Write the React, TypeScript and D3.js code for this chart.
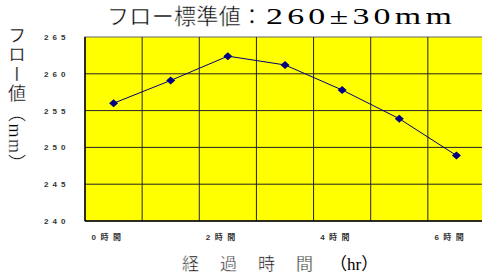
import React from "react";
import * as d3 from "d3";

const hours = ["0", "1", "2", "3", "4", "5", "6"];
const flowValues = [256.0, 259.1, 262.4, 261.2, 257.8, 253.9, 248.9];
const yTicks = [240, 245, 250, 255, 260, 265];

const W = 482;
const H = 278;
const plot = { left: 85, top: 37, right: 485, bottom: 221 };

const serif = "'Liberation Serif', 'DejaVu Serif', 'Noto Sans CJK JP', serif";
const small = "'Liberation Sans', Arial, 'Noto Sans CJK JP', sans-serif";

// thin the heavy gothic glyphs a bit so they read closer to a mincho face
const thin = { stroke: "#fff", strokeWidth: 0.45 };

export default function App() {
  const x = d3
    .scaleBand<string>()
    .domain(hours)
    .range([plot.left, plot.right])
    .padding(0);
  const y = d3.scaleLinear().domain([240, 265]).range([plot.bottom, plot.top]);
  const cx = (h: string) => (x(h) as number) + x.bandwidth() / 2;

  const line = d3
    .line<number>()
    .x((d, i) => cx(hours[i]))
    .y(d => y(d));

  const bounds = hours.slice(1).map(h => x(h) as number);

  return (
    <svg
      width={W}
      height={H}
      style={{ position: "absolute", left: 0, top: 0, background: "#fff" }}
    >
      <rect
        x={plot.left}
        y={plot.top}
        width={plot.right - plot.left}
        height={plot.bottom - plot.top}
        fill="#ffff00"
        stroke="#666"
        strokeWidth={1}
      />
      {yTicks.slice(1, -1).map(t => (
        <line
          key={t}
          x1={plot.left}
          x2={plot.right}
          y1={y(t)}
          y2={y(t)}
          stroke="#222"
          strokeWidth={1}
        />
      ))}
      {bounds.map((b, i) => (
        <line
          key={i}
          x1={b}
          x2={b}
          y1={plot.top}
          y2={plot.bottom}
          stroke="#222"
          strokeWidth={1}
        />
      ))}
      <line x1={plot.left} x2={plot.left} y1={plot.top} y2={plot.bottom} stroke="#000" strokeWidth={1.5} />
      <line x1={plot.left} x2={plot.right} y1={plot.bottom} y2={plot.bottom} stroke="#000" strokeWidth={1.5} />

      {yTicks.map(t => (
        <text
          key={t}
          x={44}
          y={y(t) + 3}
          fontFamily={small}
          fontSize={8}
          fontWeight="bold"
          fill="#333"
          letterSpacing={4}
        >
          {String(t)}
        </text>
      ))}

      {hours.map((h, i) =>
        i % 2 === 0 ? (
          <text
            key={h}
            x={cx(h) - 22}
            y={240}
            fontFamily={small}
            fontSize={8}
            fontWeight="bold"
            fill="#333"
            letterSpacing={4.5}
          >
            {h + "時間"}
          </text>
        ) : null
      )}

      <path d={line(flowValues) ?? ""} fill="none" stroke="#000080" strokeWidth={1} />
      {flowValues.map((v, i) => {
        const px = cx(hours[i]);
        const py = y(v);
        return (
          <path
            key={i}
            d={`M${px},${py - 4}L${px + 4.5},${py}L${px},${py + 4}L${px - 4.5},${py}Z`}
            fill="#000080"
          />
        );
      })}

      <text
        x={107}
        y={24}
        fontFamily={serif}
        fontSize={22}
        fill="#000"
        {...thin}
        textLength={156}
        lengthAdjust="spacing"
      >
        フロー標準値：
      </text>
      <text
        x={266}
        y={24}
        fontFamily={serif}
        fontSize={24}
        fill="#000"
        letterSpacing={3}
        textLength={190}
        lengthAdjust="spacingAndGlyphs"
      >
        260±30mm
      </text>

      <text
        x={15}
        y={26}
        fontFamily={serif}
        fontSize={18}
        fill="#000"
        stroke="#fff"
        strokeWidth={0.3}
        letterSpacing={1.5}
        style={{ writingMode: "vertical-rl", textOrientation: "mixed" } as React.CSSProperties}
      >
        フロー値（mm）
      </text>

      <text
        x={182}
        y={270}
        fontFamily={serif}
        fontSize={17}
        fill="#000"
        {...thin}
        letterSpacing={21}
      >
        経過時間
      </text>
      <text
        x={330}
        y={270}
        fontFamily={serif}
        fontSize={17}
        fill="#000"
      >
        （hr）
      </text>
    </svg>
  );
}
